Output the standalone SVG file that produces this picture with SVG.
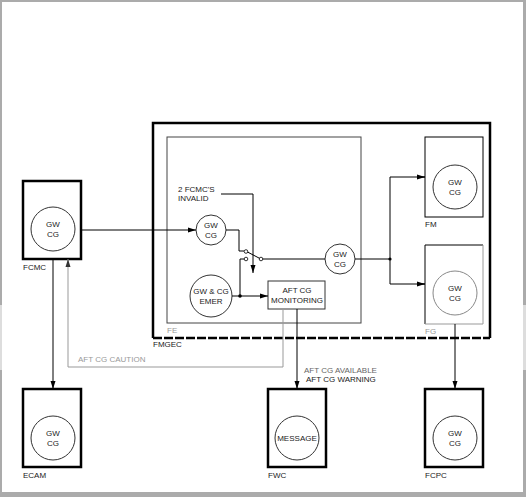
<svg xmlns="http://www.w3.org/2000/svg" width="526" height="497" viewBox="0 0 526 497">
<style>
text{font-family:"Liberation Sans",Arial,sans-serif;font-size:8px;fill:#222}
.c{text-anchor:middle}
.g{fill:#999}
.box{fill:none;stroke:#000;stroke-width:2.5}
.thin{fill:none;stroke:#000;stroke-width:1}
.circ{fill:#fff;stroke:#333;stroke-width:1}
.ln{fill:none;stroke:#000;stroke-width:1}
.gl{fill:none;stroke:#999;stroke-width:1}
</style>
<defs>
<marker id="ah" viewBox="0 0 8 6" refX="8" refY="3" markerWidth="8" markerHeight="6" markerUnits="userSpaceOnUse" orient="auto"><path d="M0,0.5 L8,3 L0,5.5 z" fill="#000"/></marker>
<marker id="ahg" viewBox="0 0 8 6" refX="8" refY="3" markerWidth="8" markerHeight="6" markerUnits="userSpaceOnUse" orient="auto"><path d="M0,0.5 L8,3 L0,5.5 z" fill="#333"/></marker>
</defs>
<rect x="0" y="0" width="526" height="497" fill="#ababab"/>
<rect x="2" y="2" width="521" height="490" fill="#fff"/>
<rect x="0" y="305" width="2" height="65" fill="#ddd"/>
<rect x="523" y="305" width="3" height="65" fill="#ddd"/>

<g id="fmgec">
<path d="M153,338 V123 H490 V338" class="box"/>
<path d="M153,338 H490" fill="none" stroke="#000" stroke-width="2.5" stroke-dasharray="9,2"/>
<text x="153" y="347">FMGEC</text>
</g>
<g id="fe">
<rect x="167" y="137" width="194" height="186" fill="none" stroke="#444" stroke-width="1"/>
<text x="167" y="333" class="g">FE</text>
</g>
<g id="fcmc">
<rect x="23" y="181" width="58" height="78" class="box"/>
<circle cx="53" cy="229" r="22" class="circ"/>
<text x="53" y="227" class="c">GW</text><text x="53" y="237" class="c">CG</text>
<text x="23" y="270">FCMC</text>
</g>
<g id="fe-gwcg">
<circle cx="211" cy="230" r="15" class="circ"/>
<text x="211" y="228" class="c">GW</text><text x="211" y="238" class="c">CG</text>
</g>
<g id="emer">
<circle cx="211" cy="296" r="21" class="circ"/>
<text x="211" y="294" class="c">GW &amp; CG</text><text x="211" y="304" class="c">EMER</text>
</g>
<g id="fe-gwcg2">
<circle cx="340" cy="259" r="15" class="circ"/>
<text x="340" y="257" class="c">GW</text><text x="340" y="267" class="c">CG</text>
</g>
<g id="monitoring">
<rect x="268" y="281" width="57" height="28" fill="#fff" stroke="#333" stroke-width="1"/>
<text x="297" y="293" class="c">AFT CG</text><text x="297" y="303" class="c">MONITORING</text>
</g>
<g id="invalid">
<text x="178" y="192">2 FCMC'S</text><text x="178" y="201">INVALID</text>
</g>
<g id="fm">
<rect x="425" y="137" width="58" height="80" fill="none" stroke="#000" stroke-width="1"/>
<circle cx="455" cy="187" r="22" class="circ"/>
<text x="455" y="185" class="c">GW</text><text x="455" y="195" class="c">CG</text>
<text x="425" y="227">FM</text>
</g>
<g id="fg">
<path d="M425,324 V245 H483" fill="none" stroke="#000" stroke-width="1"/>
<path d="M483,245 V324 H425" fill="none" stroke="#999" stroke-width="1"/>
<circle cx="455" cy="293" r="22" fill="#fff" stroke="#888" stroke-width="1"/>
<text x="455" y="291" class="c">GW</text><text x="455" y="301" class="c">CG</text>
<text x="425" y="334" class="g">FG</text>
</g>
<g id="ecam">
<rect x="23" y="389" width="58" height="78" class="box"/>
<circle cx="53" cy="438" r="22" class="circ"/>
<text x="53" y="436" class="c">GW</text><text x="53" y="446" class="c">CG</text>
<text x="23" y="478">ECAM</text>
</g>
<g id="fwc">
<rect x="268" y="389" width="58" height="78" class="box"/>
<circle cx="297" cy="438" r="22" class="circ"/>
<text x="297" y="441" class="c">MESSAGE</text>
<text x="268" y="478">FWC</text>
</g>
<g id="fcpc">
<rect x="425" y="389" width="58" height="78" class="box"/>
<circle cx="455" cy="438" r="22" class="circ"/>
<text x="455" y="436" class="c">GW</text><text x="455" y="446" class="c">CG</text>
<text x="425" y="478">FCPC</text>
</g>

<g id="connectors">
<path d="M81,230 H196" class="ln" marker-end="url(#ah)"/>
<path d="M226,230 H239 V251 H244" class="ln"/>
<circle cx="246" cy="251.5" r="1.8" fill="#fff" stroke="#000" stroke-width="0.8"/>
<circle cx="246" cy="259" r="1.8" fill="#fff" stroke="#000" stroke-width="0.8"/>
<circle cx="261" cy="259" r="1.8" fill="#fff" stroke="#000" stroke-width="0.8"/>
<path d="M247.5,252 L259.5,258.3" class="ln"/>
<path d="M262.8,259 H325" class="ln"/>
<path d="M232,296 H268" class="ln" marker-end="url(#ah)"/>
<circle cx="240" cy="296" r="1.8" fill="#000"/>
<path d="M240,296 V259 H244.2" class="ln"/>
<path d="M221,194 H253 V273" class="ln" marker-end="url(#ah)"/>
<path d="M355,259 H390" class="ln"/>
<circle cx="390" cy="259" r="1.6" fill="#000"/>
<path d="M425,177 H390 V284 H425" class="ln"/>
<path d="M417,177 H425" class="ln" marker-end="url(#ah)"/>
<path d="M417,284 H425" class="ln" marker-end="url(#ah)"/>
<path d="M53,259 V389" class="ln" marker-end="url(#ah)"/>
<path d="M283,309 V367 H68 V259" class="gl" marker-end="url(#ahg)"/>
<path d="M297,309 V389" class="ln" marker-end="url(#ah)"/>
<path d="M455,324 V389" class="ln" marker-end="url(#ah)"/>
<text x="78" y="362" class="g">AFT CG CAUTION</text>
<text x="304" y="373" fill="#555" style="fill:#666">AFT CG AVAILABLE</text>
<text x="306" y="382">AFT CG WARNING</text>
</g>
</svg>
